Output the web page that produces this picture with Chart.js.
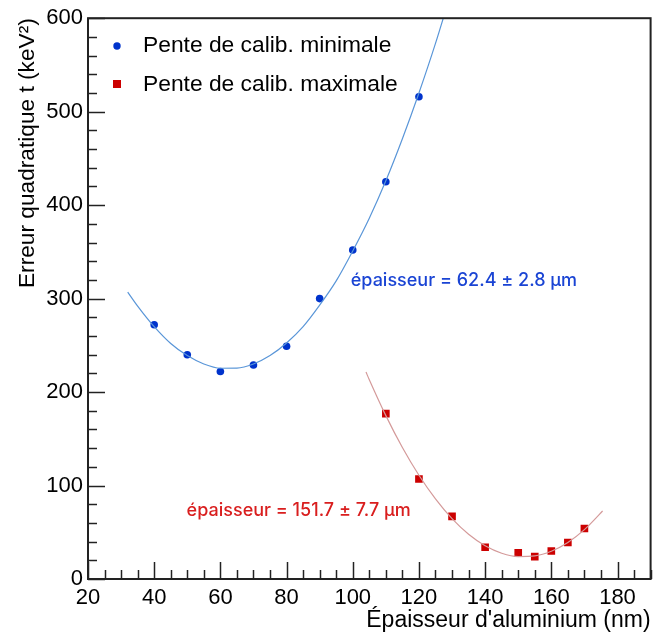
<!DOCTYPE html>
<html>
<head>
<meta charset="utf-8">
<script src="https://cdn.jsdelivr.net/npm/chart.js@4.4.1/dist/chart.umd.min.js"></script>
<style>
  html, body { margin: 0; padding: 0; background: #fff; }
  #wrap { width: 656px; height: 634px; }
</style>
</head>
<body>
<div id="wrap"><canvas id="c" width="656" height="634"></canvas></div>
<script>
// measured points
const minX = [40, 50, 60, 70, 80, 90, 100, 110, 120];
const minY = [272, 240, 222, 229, 249, 300, 352, 425, 516];
const maxX = [110, 120, 130, 140, 150, 155, 160, 165, 170];
const maxY = [177, 107, 67, 34, 28, 24, 30, 39, 54];

// fitted curves
const fitMinX = [32, 35, 40, 45, 50, 55, 60, 65, 70, 75, 80, 85, 90, 95, 100, 105, 110, 115, 120, 125, 130];
const fitMinY = [307, 292, 270, 252, 239, 230, 225.5, 225.6, 230, 239, 252.5, 270, 293, 319, 351, 386, 426, 471, 520, 573, 631];
const fitMaxX = [104, 105, 110, 115, 120, 125, 130, 135, 140, 145, 150, 155, 160, 165, 170, 175, 175.5];
const fitMaxY = [221.4, 213.2, 174.8, 140.7, 111, 85.7, 64.6, 47.9, 35.6, 27.6, 24, 24.7, 29.7, 39.1, 52.8, 70.9, 72.9];

const xTicks = [20, 40, 60, 80, 100, 120, 140, 160, 180];
const yTicks = [0, 100, 200, 300, 400, 500, 600];

const legendLabels = ["Pente de calib. minimale", "Pente de calib. maximale"];
const fitTexts = ["épaisseur = 62.4 ± 2.8 µm", "épaisseur = 151.7 ± 7.7 µm"];

const BLUE = "#0033cc";
const BLUE_LINE = "#5a96d8";
const RED = "#cc0000";
const RED_LINE = "#d49a9a";

const pts = (xs, ys) => xs.map((x, i) => ({ x: x, y: ys[i] }));

// frame, inward ticks, legend and fit labels
const decor = {
  id: "decor",
  afterDraw(chart) {
    const ctx = chart.ctx;
    const a = chart.chartArea;
    const sx = chart.scales.x;
    const sy = chart.scales.y;
    ctx.save();
    ctx.strokeStyle = "#222";
    ctx.lineWidth = 1.5;

    for (let v = 20; v <= 190; v += 5) {
      const px = Math.round(sx.getPixelForValue(v)) + 0.5;
      const len = v % 20 === 0 ? 17 : 9;
      ctx.beginPath();
      ctx.moveTo(px, a.bottom);
      ctx.lineTo(px, a.bottom - len);
      ctx.stroke();
    }
    for (let v = 0; v <= 600; v += 20) {
      const py = Math.round(sy.getPixelForValue(v)) + 0.5;
      const len = v % 100 === 0 ? 17 : 9;
      ctx.beginPath();
      ctx.moveTo(a.left, py);
      ctx.lineTo(a.left + len, py);
      ctx.stroke();
    }

    ctx.lineWidth = 2;
    ctx.strokeRect(a.left, a.top, a.right - a.left, a.bottom - a.top);

    // legend
    ctx.font = "22.8px 'Liberation Sans', Arial, sans-serif";
    ctx.textBaseline = "middle";
    ctx.fillStyle = BLUE;
    ctx.beginPath();
    ctx.arc(117, 46, 3.7, 0, Math.PI * 2);
    ctx.fill();
    ctx.fillStyle = RED;
    ctx.fillRect(113, 80, 8, 8);
    ctx.fillStyle = "#000";
    ctx.fillText(legendLabels[0], 143, 46);
    ctx.fillText(legendLabels[1], 143, 85);

    // fit results
    ctx.font = "500 18px Inter, sans-serif";
    ctx.fillStyle = "#1a44d4";
    ctx.fillText(fitTexts[0], sx.getPixelForValue(99.4), sy.getPixelForValue(319));
    ctx.fillStyle = "#d91e1e";
    ctx.fillText(fitTexts[1], sx.getPixelForValue(49.8), sy.getPixelForValue(73.4));
    ctx.restore();
  }
};

const ctx = document.getElementById("c").getContext("2d");

new Chart(ctx, {
  type: "scatter",
  data: {
    datasets: [
      {
        label: "fit min",
        data: pts(fitMinX, fitMinY),
        showLine: true,
        borderColor: BLUE_LINE,
        borderWidth: 1.2,
        pointRadius: 0,
        cubicInterpolationMode: "monotone"
      },
      {
        label: "fit max",
        data: pts(fitMaxX, fitMaxY),
        showLine: true,
        borderColor: RED_LINE,
        borderWidth: 1.2,
        pointRadius: 0,
        cubicInterpolationMode: "monotone"
      },
      {
        label: legendLabels[0],
        data: pts(minX, minY),
        backgroundColor: BLUE,
        borderWidth: 0,
        pointRadius: 3.8
      },
      {
        label: legendLabels[1],
        data: pts(maxX, maxY),
        backgroundColor: RED,
        borderWidth: 0,
        pointStyle: "rect",
        pointRadius: 5.4
      }
    ]
  },
  options: {
    responsive: false,
    animation: false,
    layout: { padding: { top: 15, right: 3, left: 0, bottom: 0 } },
    plugins: {
      legend: { display: false },
      tooltip: { enabled: false }
    },
    scales: {
      x: {
        type: "linear",
        min: 20,
        max: 190,
        afterBuildTicks: (s) => { s.ticks = xTicks.map(v => ({ value: v })); },
        afterFit: (s) => { s.height = 55; },
        grid: { display: false, drawTicks: false },
        border: { display: false },
        ticks: {
          color: "#000",
          padding: 6,
          maxRotation: 0,
          font: { family: "'Liberation Sans', Arial, sans-serif", size: 22 }
        },
        title: {
          display: true,
          text: "Épaisseur d'aluminium (nm)",
          align: "end",
          color: "#000",
          padding: { top: 0, bottom: 0 },
          font: { family: "'Liberation Sans', Arial, sans-serif", size: 23 }
        }
      },
      y: {
        min: 0,
        max: 600,
        afterBuildTicks: (s) => { s.ticks = yTicks.map(v => ({ value: v })); },
        afterFit: (s) => { s.width = 88; },
        grid: { display: false, drawTicks: false },
        border: { display: false },
        ticks: {
          color: "#000",
          padding: 5,
          font: { family: "'Liberation Sans', Arial, sans-serif", size: 22 }
        },
        title: {
          display: true,
          text: "Erreur quadratique t (keV²)",
          align: "end",
          color: "#000",
          padding: { top: 14, bottom: 0 },
          font: { family: "'Liberation Sans', Arial, sans-serif", size: 22.7 }
        }
      }
    }
  },
  plugins: [decor]
});
</script>
</body>
</html>
